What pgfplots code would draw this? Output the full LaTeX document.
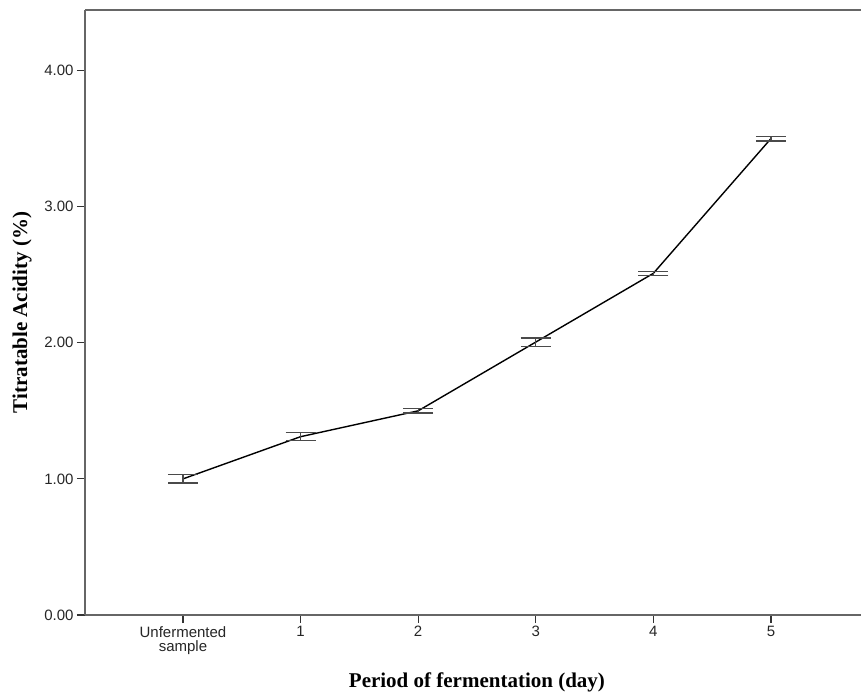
\documentclass[border=0pt]{standalone}
\usepackage{pgfplots}
\pgfplotsset{compat=1.18}
\usepackage{fontspec}
\setmainfont{Liberation Sans}
\newfontfamily\serifb{Liberation Serif}
\definecolor{axisgray}{HTML}{666666}
\definecolor{capgray}{HTML}{4A4A4A}
\begin{document}
\begin{tikzpicture}
\begin{axis}[
  name=ax,
  at={(0,0)}, anchor=south west,
  scale only axis,
  width=776bp, height=605bp,
  xmin=-0.833, xmax=5.766,
  ymin=0, ymax=4.445,
  axis x line*=bottom, axis y line*=left,
  axis line style={-, axisgray, line width=1.5bp},
  tick align=outside,
  major tick length=8bp,
  tick style={black!80, line width=1.2bp},
  xtick={0,1,2,3,4,5},
  xticklabels={Unfermented\\sample,1,2,3,4,5},
  ytick={0,1,2,3,4},
  yticklabels={0.00,1.00,2.00,3.00,4.00},
  xticklabel style={align=center, font=\fontsize{15bp}{14.5bp}\selectfont, text=black!85},
  yticklabel style={font=\fontsize{15bp}{15bp}\selectfont, text=black!85},
  every axis x label/.style={at={(axis cs:2.5,0)}, anchor=base, yshift=-72bp},
  every axis y label/.style={at={(axis description cs:-0.0812,0.5)}, rotate=90, anchor=center},
  xlabel={\serifb\bfseries\fontsize{21bp}{21bp}\selectfont Period of fermentation (day)},
  ylabel={\serifb\bfseries\fontsize{21bp}{21bp}\selectfont Titratable Acidity (\%)},
]
\addplot[black, line width=1.4bp, mark=none,
  error bars/.cd, y dir=both, y explicit,
  error bar style={capgray, line width=1.2bp},
  error mark=-,
  error mark options={capgray, line width=1.2bp, mark size=15bp, rotate=90}]
  coordinates {
  (0,1.00) +- (0,0.03)
  (1,1.31) +- (0,0.03)
  (2,1.50) +- (0,0.016)
  (3,2.005) +- (0,0.03)
  (4,2.51) +- (0,0.015)
  (5,3.50) +- (0,0.018)
  };
\end{axis}
\draw[axisgray, line width=1.5bp] (ax.north west) -- (ax.north east);
\pgfresetboundingbox
\path[use as bounding box] (-85bp,-82bp) rectangle (776bp,615bp);
\end{tikzpicture}
\end{document}
